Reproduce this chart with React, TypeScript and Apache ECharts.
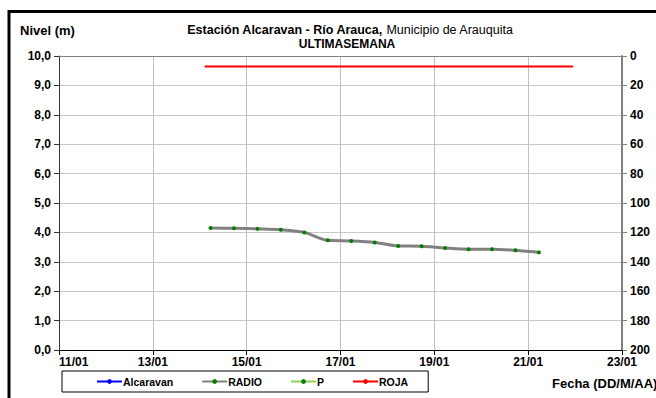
import React, { useEffect, useRef } from "react";
import * as echarts from "echarts";

const xTickLabels = ["11/01", "13/01", "15/01", "17/01", "19/01", "21/01", "23/01"];
const leftTicks = [0, 1, 2, 3, 4, 5, 6, 7, 8, 9, 10];
const rightTicks = [0, 20, 40, 60, 80, 100, 120, 140, 160, 180, 200];

const radioDates = [
  "14/01 05:30", "14/01 17:30", "15/01 05:30", "15/01 17:30", "16/01 05:30",
  "16/01 17:30", "17/01 05:30", "17/01 17:30", "18/01 05:30", "18/01 17:30",
  "19/01 05:30", "19/01 17:30", "20/01 05:30", "20/01 17:30", "21/01 05:30",
];
const radioLevels = [4.15, 4.14, 4.12, 4.09, 4.0, 3.73, 3.71, 3.66, 3.54, 3.53, 3.47, 3.43, 3.43, 3.39, 3.32];

const rojaDates = ["14/01 02:30", "21/01 23:00"];
const rojaLevels = [9.64, 9.64];

const alcaravanDates: string[] = [];
const alcaravanLevels: number[] = [];
const pDates: string[] = [];
const pLevels: number[] = [];

function toDay(s: string): number {
  const [d, t] = s.split(" ");
  const day = parseInt(d.split("/")[0], 10);
  const [h, m] = (t || "00:00").split(":").map((v) => parseInt(v, 10));
  return day + h / 24 + m / 1440;
}
function pairs(dates: string[], vals: number[]) {
  return dates.map((d, i) => [toDay(d), vals[i]]);
}

const FONT = "'Liberation Sans', Arial, sans-serif";

export default function App() {
  const ref = useRef<HTMLDivElement>(null);
  useEffect(() => {
    if (!ref.current) return;
    const chart = echarts.init(ref.current, undefined, { renderer: "svg" });
    const tickDays = xTickLabels.map((l) => parseInt(l.split("/")[0], 10));
    const labelStyle = { color: "#000", fontWeight: "bold" as const, fontSize: 12, fontFamily: FONT };
    chart.setOption({
      animation: false,
      backgroundColor: "#fff",
      textStyle: { fontFamily: FONT },
      grid: { left: 59, top: 56, width: 563, height: 294, containLabel: false },
      xAxis: [
        {
          type: "value",
          min: tickDays[0],
          max: tickDays[tickDays.length - 1],
          interval: 2,
          axisLine: { lineStyle: { color: "#000", width: 1 } },
          axisTick: { show: true, length: 5, lineStyle: { color: "#000" } },
          axisLabel: {
            ...labelStyle,
            margin: 6,
            alignMinLabel: "left",
            formatter: (v: number) => {
              const i = tickDays.indexOf(Math.round(v));
              return i >= 0 ? xTickLabels[i] : "";
            },
          },
          splitLine: { show: true, lineStyle: { color: "#c0c0c0", width: 1 } },
        },
        {
          type: "value",
          position: "top",
          min: tickDays[0],
          max: tickDays[tickDays.length - 1],
          interval: 2,
          axisLine: { show: true, lineStyle: { color: "#808080", width: 1 } },
          axisTick: { show: false },
          axisLabel: { show: false },
          splitLine: { show: false },
        },
      ],
      yAxis: [
        {
          type: "value",
          min: leftTicks[0],
          max: leftTicks[leftTicks.length - 1],
          interval: 1,
          axisLine: { show: true, lineStyle: { color: "#333", width: 1 } },
          axisTick: { show: true, length: 5, lineStyle: { color: "#333" } },
          axisLabel: { ...labelStyle, margin: 8, formatter: (v: number) => v.toFixed(1).replace(".", ",") },
          splitLine: { show: true, lineStyle: { color: "#c8c8c8", width: 1 } },
        },
        {
          type: "value",
          position: "right",
          inverse: true,
          min: rightTicks[0],
          max: rightTicks[rightTicks.length - 1],
          interval: 20,
          axisLine: { show: true, lineStyle: { color: "#808080", width: 2 } },
          axisTick: { show: true, length: 5, lineStyle: { color: "#808080" } },
          axisLabel: { ...labelStyle, margin: 8 },
          splitLine: { show: false },
        },
      ],
      legend: {
        left: 62,
        top: 371,
        width: 376,
        padding: [5, 20, 5, 34],
        itemGap: 28,
        itemWidth: 25,
        itemHeight: 6,
        borderColor: "#000",
        borderWidth: 1,
        borderRadius: 0,
        textStyle: { ...labelStyle, fontSize: 10.5, padding: [0, 0, 0, -4] },
        data: ["Alcaravan", "RADIO", "P", "ROJA"],
      },
      series: [
        {
          name: "Alcaravan",
          type: "line",
          data: pairs(alcaravanDates, alcaravanLevels),
          showSymbol: false,
          symbol: "none",
          lineStyle: { color: "#0000ff", width: 2.5 },
          itemStyle: { color: "#0000ff" },
        },
        {
          name: "RADIO",
          type: "line",
          data: pairs(radioDates, radioLevels),
          smooth: 0.3,
          symbol: "circle",
          symbolSize: 4,
          lineStyle: { color: "#808080", width: 3 },
          itemStyle: { color: "#008000" },
          z: 3,
        },
        {
          name: "P",
          type: "line",
          data: pairs(pDates, pLevels),
          symbol: "circle",
          symbolSize: 4,
          lineStyle: { color: "#92d050", width: 2 },
          itemStyle: { color: "#008000" },
        },
        {
          name: "ROJA",
          type: "line",
          data: pairs(rojaDates, rojaLevels),
          symbol: "none",
          lineStyle: { color: "#ff0000", width: 2 },
          itemStyle: { color: "#ff0000" },
        },
      ],
      graphic: [
        {
          type: "rect",
          shape: { x: 9, y: 11.5, width: 800, height: 600 },
          style: { fill: "none", stroke: "#000", lineWidth: 3 },
          silent: true,
        },
        {
          type: "text",
          left: 20,
          top: 24,
          style: { text: "Nivel (m)", font: `bold 13px ${FONT}`, fill: "#000" },
        },
        {
          type: "text",
          x: 350,
          y: 29.5,
          style: {
            text: "{b|Estación Alcaravan - Río Arauca,} {n|Municipio de Arauquita}",
            align: "center",
            verticalAlign: "middle",
            rich: {
              b: { font: `bold 12.5px ${FONT}`, fill: "#000" },
              n: { font: `12.5px ${FONT}`, fill: "#000" },
            },
          },
        },
        {
          type: "text",
          x: 347,
          y: 44,
          style: {
            text: "ULTIMASEMANA",
            align: "center",
            verticalAlign: "middle",
            font: `bold 12px ${FONT}`,
            fill: "#000",
          },
        },
        {
          type: "text",
          x: 552,
          y: 383,
          style: {
            text: "Fecha (DD/M/AA)",
            verticalAlign: "middle",
            font: `bold 13px ${FONT}`,
            fill: "#000",
          },
        },
      ],
    });
    return () => chart.dispose();
  }, []);
  return (
    <div
      ref={ref}
      style={{ position: "absolute", left: 0, top: 0, width: 656, height: 398 }}
    />
  );
}
